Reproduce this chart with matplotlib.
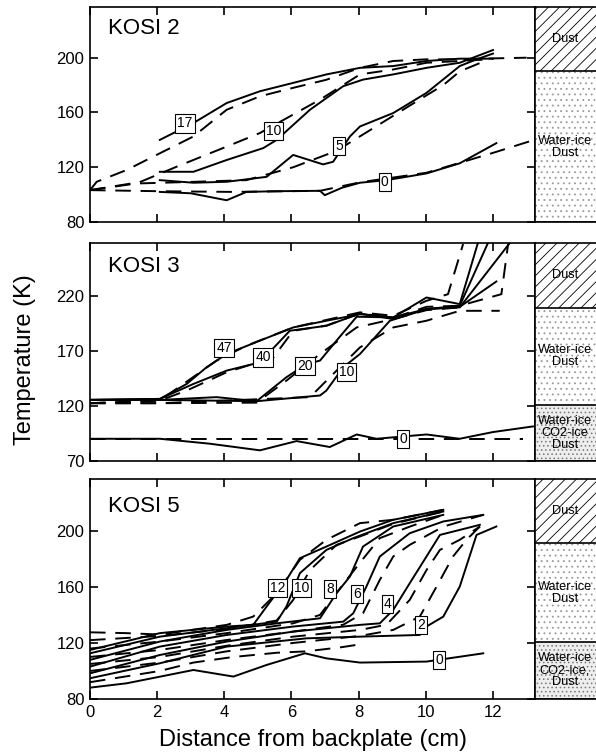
import matplotlib
matplotlib.use('Agg')
import matplotlib.pyplot as plt

plt.rcParams['font.family'] = ['Liberation Sans', 'DejaVu Sans']
plt.rcParams['hatch.linewidth'] = 0.6

# ---- KOSI 2: measured (solid) and model (dashed) profiles, labelled by hour ----
k2_labels = ['17', '10', '5', '0']
k2_label_x = [2.83, 5.46, 7.42, 8.78]
k2_label_t = [152, 146.6, 135.8, 109.4]

k2_17_x = [2.08, 3.08, 4.07, 5.06, 6.05, 7.04, 8.04, 9.03, 10.02, 11.01, 12.0]
k2_17_t = [140, 152.3, 166.9, 175.5, 181.6, 187.8, 192.6, 193.9, 197.6, 199.3, 199.3]
k2_10_x = [2.08, 3.08, 4.07, 5.16, 5.56, 6.55, 7.54, 8.13, 9.03, 10.02, 11.01, 12.0]
k2_10_t = [116.7, 116.7, 125.3, 134, 140, 162, 179.2, 184, 187.8, 192.6, 196.3, 205.6]
k2_5_x = [2.08, 3.08, 4.07, 5.26, 6.05, 6.94, 7.24, 7.74, 8.04, 9.03, 10.02, 11.01, 11.51, 12.0]
k2_5_t = [110.6, 108.7, 109.4, 113, 129, 122.1, 124, 142.5, 149.8, 159.6, 174.3, 193.9, 198.8, 203]
k2_0_x = [2.08, 3.0, 4.07, 4.66, 5.5, 6.85, 6.99, 7.5, 8.04, 8.83, 10.02, 11.01, 12.1]
k2_0_t = [102, 101, 95.9, 102, 102.5, 102.8, 99.6, 105, 108.7, 110.6, 115.5, 122.9, 137.6]

k2_17m_x = [0, 0.2, 1.09, 2.08, 3.08, 4.07, 5.06, 6.05, 7.04, 8.04, 9.03, 10.02, 11.01, 12.0, 13.0]
k2_17m_t = [103.3, 109.4, 118, 130.2, 142.5, 162, 171.8, 178, 183.9, 192.6, 197.6, 198.8, 198.8, 199.5, 200]
k2_10m_x = [0, 1.39, 2.58, 4.07, 5.06, 6.85, 8.04, 9.03, 10.02, 11.01, 12.0]
k2_10m_t = [103.3, 108.2, 120.4, 135.1, 145, 169.4, 187.8, 191.4, 196.3, 197.6, 199]
k2_5m_x = [0, 1.19, 3.27, 4.66, 6.05, 7.34, 8.53, 9.52, 10.52, 11.01, 11.7]
k2_5m_t = [103.3, 108, 109.5, 110.6, 120, 132, 150, 165, 180, 190, 197]
k2_0m_x = [0, 2.08, 4.27, 6.85, 8.04, 10.02, 12.0, 13.1]
k2_0m_t = [103.3, 102.5, 102, 102.8, 109, 116, 130.5, 139]

# ---- KOSI 3 ----
k3_labels = ['47', '40', '20', '10', '0']
k3_label_x = [3.99, 5.16, 6.4, 7.64, 9.33]
k3_label_t = [172.6, 164, 156.6, 150.6, 90]

k3_47_x = [0, 2.08, 2.88, 3.47, 4.07, 5.06, 6.05, 7.04, 8.04, 9.03, 10.02, 11.01, 11.55]
k3_47_t = [125.5, 126.4, 140, 155.1, 167.2, 179.3, 191.3, 197.4, 203.3, 200.4, 218.5, 212.5, 268]
k3_40_x = [0, 2.08, 3.08, 4.07, 5.06, 5.95, 7.04, 8.04, 9.03, 10.02, 11.01, 11.85]
k3_40_t = [125.5, 126.4, 140, 152.1, 159.6, 188.3, 192.8, 204, 198.9, 208, 211, 268]
k3_20_x = [0, 2.08, 3.77, 4.96, 5.85, 6.45, 6.85, 7.34, 7.94, 9.03, 10.02, 11.01, 12.5]
k3_20_t = [125.5, 125.5, 128, 124.3, 146.1, 158.1, 161.2, 179.3, 201, 200.4, 208, 209.5, 268]
k3_10_x = [0, 2.08, 4.96, 6.85, 7.04, 7.54, 8.04, 8.93, 10.02, 11.01, 12.1]
k3_10_t = [125.5, 125.5, 124.3, 129.5, 134, 155.1, 167.2, 197.4, 208, 210, 233]
k3_0_x = [0, 2.08, 3.57, 5.06, 6.15, 7.14, 7.94, 8.53, 10.02, 11.01, 12.0, 13.19]
k3_0_t = [90.2, 90.2, 85.7, 79.7, 88.1, 82.7, 94.1, 90.2, 94.1, 90.2, 96.3, 101.4]

k3_47m_x = [0, 2.08, 3.77, 4.66, 6.05, 8.04, 9.03, 10.02, 10.66, 11.11]
k3_47m_t = [122.5, 124.9, 161.2, 174.7, 191.3, 205, 201.9, 215.5, 221.5, 267]
k3_40m_x = [0, 2.08, 2.88, 4.07, 5.46, 6.05, 7.04, 8.04, 9.03, 10.02, 11.01, 12.25, 12.45]
k3_40m_t = [122.5, 124.9, 134, 150.6, 164, 188.3, 193, 204, 200, 210, 211, 221.5, 267]
k3_20m_x = [0, 2.08, 4.96, 5.85, 6.85, 7.94, 9.03, 10.02, 11.01]
k3_20m_t = [122.5, 122.5, 123, 143, 167.2, 191.3, 198.9, 207, 209.5]
k3_10m_x = [0, 2.08, 6.55, 7.54, 8.04, 9.03, 10.02, 11.01, 12.2]
k3_10m_t = [122.5, 122.5, 128, 158.1, 173.2, 191.3, 197.4, 206.4, 206.4]
k3_0m_x = [0, 12.9]
k3_0m_t = [89.6, 89.6]

# ---- KOSI 5 ----
k5_labels = ['12', '10', '8', '6', '4', '2', '0']
k5_label_x = [5.58, 6.3, 7.14, 7.94, 8.86, 9.85, 10.4]
k5_label_t = [159.5, 159.5, 158.6, 154.8, 148, 133, 108]

k5_12_x = [0, 2.08, 4.07, 4.86, 5.26, 5.85, 6.25, 7.04, 8.04, 9.03, 10.52]
k5_12_t = [115, 127, 131.7, 132.9, 146, 165, 180.5, 188.8, 199.5, 207.9, 215]
k5_10_x = [0, 2.08, 4.07, 5.56, 5.85, 6.25, 7.04, 7.84, 9.03, 10.52]
k5_10_t = [112.6, 124.5, 130.5, 135.2, 146, 169.8, 186.4, 194.8, 205.5, 213.8]
k5_8_x = [0, 2.08, 4.07, 5.56, 6.85, 7.34, 7.74, 8.13, 9.03, 10.52]
k5_8_t = [107.9, 121, 129.3, 134, 137.6, 155.5, 167.4, 188.8, 203.1, 211.4]
k5_6_x = [0, 2.08, 4.07, 6.05, 7.54, 7.84, 8.23, 8.63, 9.52, 10.52, 11.71]
k5_6_t = [103.1, 117.4, 125.7, 131.7, 135.2, 141.2, 160.2, 181.7, 198.3, 206.7, 211.4]
k5_4_x = [0, 2.08, 4.07, 6.05, 8.04, 8.63, 9.03, 9.52, 10.02, 10.42, 11.61]
k5_4_t = [98.3, 111.4, 121, 128.1, 132.9, 134, 143.6, 162.6, 181.7, 197.1, 204.3]
k5_2_x = [0, 2.08, 4.07, 6.45, 8.04, 9.82, 10.02, 10.52, 11.01, 11.51, 12.1]
k5_2_t = [94.8, 105.5, 117.4, 123.3, 124.5, 125.7, 131.7, 138.8, 160.2, 197.1, 203.1]
k5_0_x = [0, 1.09, 3.08, 4.27, 5.26, 6.4, 7.04, 8.04, 10.02, 11.71]
k5_0_t = [88.1, 91.2, 100.7, 96, 104.3, 112.6, 109, 106, 106.7, 112.6]

k5_12m_x = [0, 1.09, 2.08, 4.07, 4.86, 5.56, 6.25, 7.04, 8.04, 9.03, 10.52]
k5_12m_t = [127.6, 127, 126, 132.9, 138.8, 155.5, 179.3, 193.6, 205.5, 207.9, 215]
k5_10m_x = [0, 2.08, 4.07, 5.56, 6.05, 6.55, 7.34, 8.04, 9.03, 10.52]
k5_10m_t = [122, 125, 130, 136, 150.7, 172, 190, 196, 205, 213.8]
k5_8m_x = [0, 2.08, 4.07, 6.05, 6.85, 7.54, 8.13, 8.63, 9.52, 10.52]
k5_8m_t = [116, 121, 127, 134, 140, 162, 180, 194.8, 203, 211.4]
k5_6m_x = [0, 2.08, 4.07, 6.05, 7.54, 8.13, 8.63, 9.03, 9.52, 10.52, 11.71]
k5_6m_t = [110, 115, 122.1, 128.1, 133, 141.2, 165, 181.7, 190, 203, 211.4]
k5_4m_x = [0, 2.08, 4.07, 6.05, 8.04, 8.83, 9.52, 10.02, 10.42, 11.01, 11.61]
k5_4m_t = [105, 110, 118, 124.5, 129.3, 133, 150.7, 172, 186.4, 193.6, 203.1]
k5_2m_x = [0, 2.08, 4.07, 6.05, 8.04, 9.03, 9.82, 10.32, 10.81, 11.21, 11.61]
k5_2m_t = [100, 106, 114, 120, 125, 129.3, 138.8, 160.2, 181.7, 193.6, 203.1]
k5_0m_x = [0, 2.08, 3.08, 4.27, 5.56, 6.45, 7.5, 8.04]
k5_0m_t = [92, 100, 106, 110, 113, 114, 117, 119]

# sample layers on the right: (bottom K, top K, fill kind, text)
k2_layers = [(80, 190, 'dots', 'Water-ice\nDust'), (190, 237, 'hatch', 'Dust')]
k3_layers = [(70, 121, 'dense', 'Water-ice\nCO2-ice\nDust'),
             (121, 209, 'dots', 'Water-ice\nDust'), (209, 268, 'hatch', 'Dust')]
k5_layers = [(80, 121, 'dense', 'Water-ice\nCO2-ice,\nDust'),
             (121, 191, 'dots', 'Water-ice\nDust'), (191, 237, 'hatch', 'Dust')]

panels = [
    dict(name='KOSI 2', ylim=(80, 237), yticks=[80, 120, 160, 200], box=[0.7063, 0.2844],
         meas=[(k2_17_x, k2_17_t), (k2_10_x, k2_10_t), (k2_5_x, k2_5_t), (k2_0_x, k2_0_t)],
         model=[(k2_17m_x, k2_17m_t), (k2_10m_x, k2_10m_t), (k2_5m_x, k2_5m_t), (k2_0m_x, k2_0m_t)],
         labels=(k2_labels, k2_label_x, k2_label_t), layers=k2_layers, name_y=0.90),
    dict(name='KOSI 3', ylim=(70, 268), yticks=[70, 120, 170, 220], box=[0.3902, 0.2884],
         meas=[(k3_47_x, k3_47_t), (k3_40_x, k3_40_t), (k3_20_x, k3_20_t), (k3_10_x, k3_10_t), (k3_0_x, k3_0_t)],
         model=[(k3_47m_x, k3_47m_t), (k3_40m_x, k3_40m_t), (k3_20m_x, k3_20m_t), (k3_10m_x, k3_10m_t),
                (k3_0m_x, k3_0m_t)],
         labels=(k3_labels, k3_label_x, k3_label_t), layers=k3_layers, name_y=0.89),
    dict(name='KOSI 5', ylim=(80, 237), yticks=[80, 120, 160, 200], box=[0.0754, 0.291],
         meas=[(k5_12_x, k5_12_t), (k5_10_x, k5_10_t), (k5_8_x, k5_8_t), (k5_6_x, k5_6_t),
               (k5_4_x, k5_4_t), (k5_2_x, k5_2_t), (k5_0_x, k5_0_t)],
         model=[(k5_12m_x, k5_12m_t), (k5_10m_x, k5_10m_t), (k5_8m_x, k5_8m_t), (k5_6m_x, k5_6m_t),
                (k5_4m_x, k5_4m_t), (k5_2m_x, k5_2m_t), (k5_0m_x, k5_0m_t)],
         labels=(k5_labels, k5_label_x, k5_label_t), layers=k5_layers, name_y=0.877),
]

fig = plt.figure(figsize=(5.96, 7.56), dpi=100)

for i, p in enumerate(panels):
    bottom, height = p['box']
    ax = fig.add_axes([0.151, bottom, 0.7466, height])
    for x, t in p['meas']:
        ax.plot(x, t, color='black', lw=1.4, solid_joinstyle='round')
    for x, t in p['model']:
        ax.plot(x, t, color='black', lw=1.4, linestyle=(0, (8, 5)))
    names, lx, lt = p['labels']
    for s, x, t in zip(names, lx, lt):
        ax.text(x, t, s, ha='center', va='center', fontsize=10, zorder=5,
                bbox=dict(boxstyle='square,pad=0.15', fc='white', ec='black', lw=0.8))
    ax.text(0.04, p['name_y'], p['name'], transform=ax.transAxes, fontsize=16, va='center')

    ax.set_xlim(0, 13.25)
    ax.set_ylim(*p['ylim'])
    ax.set_xticks([0, 2, 4, 6, 8, 10, 12])
    ax.set_yticks(p['yticks'])
    ax.tick_params(direction='in', length=6, width=1.2, top=True, right=True, labelsize=12, pad=4)
    if i < 2:
        ax.tick_params(labelbottom=False)
    for sp in ax.spines.values():
        sp.set_linewidth(1.2)

    # layer strip on the right, running past the figure edge
    axs = fig.add_axes([0.8977, bottom, 0.1258, height])
    axs.set_xlim(0, 1)
    axs.set_ylim(*p['ylim'])
    for lo, hi, kind, txt in p['layers']:
        if kind == 'hatch':
            axs.axhspan(lo, hi, fc='white', ec='black', hatch='///', lw=0)
        elif kind == 'dots':
            axs.axhspan(lo, hi, fc='white', ec='#999999', hatch='...', lw=0)
        else:
            axs.axhspan(lo, hi, fc='#eeeeee', ec='#777777', hatch='....', lw=0)
        axs.axhline(lo, color='black', lw=1.2)
        axs.text(0.4, (lo + hi) / 2, txt, ha='center', va='center', fontsize=9.2,
                 linespacing=1.0)
    axs.set_xticks([])
    axs.set_yticks([])
    for sp in axs.spines.values():
        sp.set_linewidth(1.2)

fig.text(0.042, 0.524, 'Temperature (K)', rotation=90, ha='center', va='center', fontsize=17)
fig.text(0.525, 0.021, 'Distance from backplate (cm)', ha='center', va='center', fontsize=17)

fig.savefig('out.png', dpi=100)
